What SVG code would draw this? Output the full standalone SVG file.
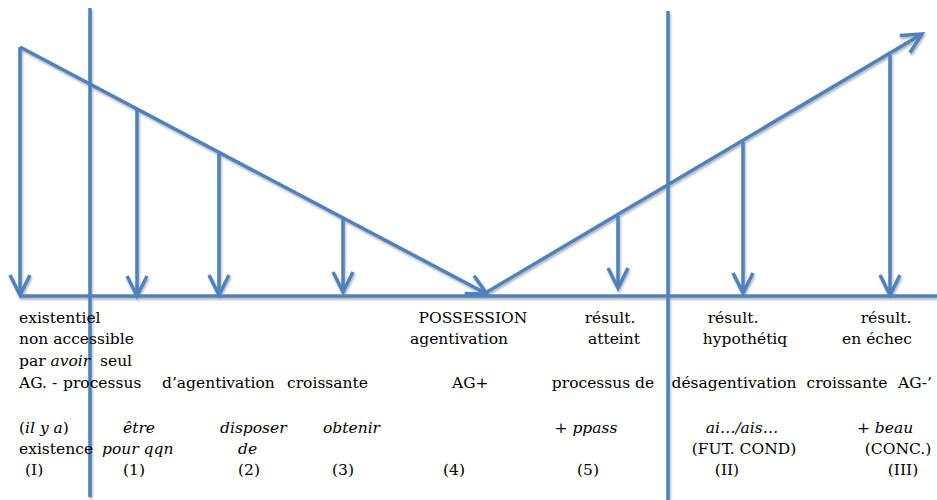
<svg xmlns="http://www.w3.org/2000/svg" width="937" height="500" viewBox="0 0 937 500">
<style>
.ln{stroke:#4f81bd;stroke-width:3.5;fill:none;stroke-linecap:butt}
.ar{marker-end:url(#chev)}
text{font-family:"DejaVu Serif","Liberation Serif",serif;font-size:15.5px;fill:#000}
.i{font-style:italic}
</style>
<defs>
<marker id="chev" markerUnits="userSpaceOnUse" viewBox="-24 -14 28 28" refX="0" refY="0" markerWidth="28" markerHeight="28" orient="auto" overflow="visible">
<path d="M-20,-10 L0,0 L-20,10" fill="none" stroke="#4f81bd" stroke-width="3.5" stroke-linejoin="miter"/>
</marker>
<filter id="sh" x="-5%" y="-5%" width="110%" height="115%">
<feDropShadow dx="1" dy="2" stdDeviation="1" flood-color="#000" flood-opacity="0.3"/>
</filter>
</defs>
<rect width="937" height="500" fill="#fff"/>
<g id="connectors" filter="url(#sh)">
<line class="ln" x1="20" y1="296" x2="937" y2="296"/>
<line class="ln" x1="90" y1="8" x2="90" y2="497"/>
<line class="ln" x1="668" y1="11" x2="668" y2="500"/>
<line class="ln ar" x1="20" y1="47" x2="487" y2="294"/>
<line class="ln ar" x1="487" y1="292" x2="922" y2="34"/>
<line class="ln ar" x1="20" y1="47" x2="20" y2="295"/>
<line class="ln ar" x1="137" y1="110" x2="137" y2="296"/>
<line class="ln ar" x1="219" y1="154" x2="219" y2="295"/>
<line class="ln ar" x1="343" y1="219" x2="343" y2="292"/>
<line class="ln ar" x1="618" y1="216" x2="618" y2="288"/>
<line class="ln ar" x1="743" y1="142" x2="743" y2="293"/>
<line class="ln ar" x1="890" y1="55" x2="890" y2="295"/>
</g>
<g id="col-I">
<text x="19" y="323">existentiel</text>
<text x="19" y="344">non accessible</text>
<text x="19" y="366">par <tspan class="i">avoir</tspan></text>
<text x="100" y="366">seul</text>
<text x="19" y="388">AG. -</text>
<text x="19" y="433">(<tspan class="i">il y a</tspan>)</text>
<text x="19" y="454">existence</text>
<text x="25" y="475">(I)</text>
</g>
<g id="col-1">
<text x="63" y="388">processus</text>
<text x="123" y="433" class="i">être</text>
<text x="102" y="454" class="i">pour qqn</text>
<text x="123" y="475">(1)</text>
</g>
<g id="col-2">
<text x="162" y="388">d’agentivation</text>
<text x="220" y="433" class="i">disposer</text>
<text x="238" y="454" class="i">de</text>
<text x="238" y="475">(2)</text>
</g>
<g id="col-3">
<text x="287" y="388">croissante</text>
<text x="323" y="433" class="i">obtenir</text>
<text x="332" y="475">(3)</text>
</g>
<g id="col-4">
<text x="473" y="323" text-anchor="middle">POSSESSION</text>
<text x="459" y="344" text-anchor="middle">agentivation</text>
<text x="452" y="388">AG+</text>
<text x="443" y="475">(4)</text>
</g>
<g id="col-5">
<text x="610" y="323" text-anchor="middle">résult.</text>
<text x="614" y="344" text-anchor="middle">atteint</text>
<text x="603" y="388" text-anchor="middle">processus de</text>
<text x="586" y="433" class="i" text-anchor="middle">+ ppass</text>
<text x="577" y="475">(5)</text>
</g>
<g id="col-II">
<text x="733" y="323" text-anchor="middle">résult.</text>
<text x="745" y="344" text-anchor="middle">hypothétiq</text>
<text x="734" y="388" text-anchor="middle">désagentivation</text>
<text x="742" y="433" class="i" text-anchor="middle">ai…/ais…</text>
<text x="744" y="454" text-anchor="middle">(FUT. COND)</text>
<text x="727" y="475" text-anchor="middle">(II)</text>
</g>
<g id="col-III">
<text x="886" y="323" text-anchor="middle">résult.</text>
<text x="877" y="344" text-anchor="middle">en échec</text>
<text x="847" y="388" text-anchor="middle">croissante</text>
<text x="898" y="388">AG-’</text>
<text x="885" y="433" class="i" text-anchor="middle">+ beau</text>
<text x="898" y="454" text-anchor="middle">(CONC.)</text>
<text x="903" y="475" text-anchor="middle">(III)</text>
</g>
</svg>
